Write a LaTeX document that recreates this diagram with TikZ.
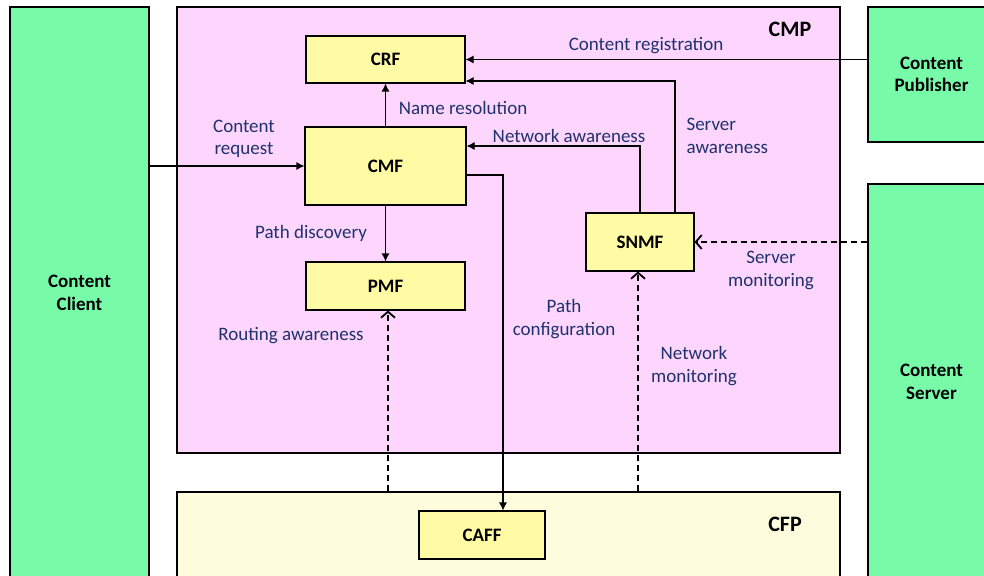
\documentclass[tikz,border=0pt]{standalone}
\usepackage{fontspec}
\setmainfont{Carlito}
\usetikzlibrary{arrows.meta}
\definecolor{entgreen}{RGB}{119,251,169}
\definecolor{cmppink}{RGB}{253,213,253}
\definecolor{fnyellow}{RGB}{255,251,165}
\definecolor{cfpyellow}{RGB}{253,253,221}
\definecolor{lblblue}{RGB}{31,50,110}

\begin{document}
\fontsize{19}{22.5}\selectfont
\begin{tikzpicture}[x=1pt, y=-1pt, line width=1.1pt,
  ent/.style = {draw, fill=entgreen, font=\bfseries, align=center, inner sep=0pt},
  plane/.style = {draw, inner sep=0pt},
  fn/.style = {draw, fill=fnyellow, font=\bfseries, inner sep=0pt},
  planelbl/.style = {font=\fontsize{22}{26}\selectfont\bfseries, inner sep=0pt},
  flow/.style = {-{Latex[length=8pt,width=8pt]}},
  mon/.style = {-{Straight Barb[length=6pt,width=14pt,line width=1.8pt]}, dash pattern=on 6pt off 4pt},
  lbl/.style = {text=lblblue, align=center, inner sep=0pt}]
\useasboundingbox (0,0) rectangle (984,575);
\clip (0,0) rectangle (984,575);

% outside entities
\node[ent, minimum width=139pt, minimum height=572pt] (client) at (79.5,293) {Content\\Client};
\node[ent, minimum width=127pt, minimum height=135pt] (publisher) at (931.5,74.5) {Content\\Publisher};
\node[ent, minimum width=127pt, minimum height=396pt] (server) at (931.5,382) {Content\\Server};

% planes
\node[plane, fill=cmppink, minimum width=663pt, minimum height=446pt] (cmp) at (508.5,230) {};
\node[plane, fill=cfpyellow, minimum width=663pt, minimum height=160pt] (cfp) at (508.5,572) {};
\node[planelbl] (cmplbl) at (790,29) {CMP};
\node[planelbl] (cfplbl) at (785,524) {CFP};

% functions
\node[fn, minimum width=159pt, minimum height=47pt] (crf) at (385.5,59.5) {CRF};
\node[fn, minimum width=161pt, minimum height=78pt] (cmf) at (385.5,166) {CMF};
\node[fn, minimum width=159pt, minimum height=48pt] (pmf) at (385.5,286) {PMF};
\node[fn, minimum width=108pt, minimum height=58pt] (snmf) at (640,242) {SNMF};
\node[fn, minimum width=126pt, minimum height=48pt] (caff) at (482,535) {CAFF};

% interfaces
\draw[flow] (client.east |- cmf) -- (cmf);
\draw[flow] (cmf) -- (crf);
\draw[flow] (publisher.west |- crf) -- (crf);
\draw[flow] ([xshift=35pt]snmf.north) |- ([yshift=-21.5pt]crf.east);
\draw[flow] (snmf.north) |- ([yshift=20pt]cmf.east);
\draw[flow] ([yshift=-9pt]cmf.east) -| ([xshift=21pt]caff.north);
\draw[flow] (cmf) -- (pmf);
\draw[mon] ([xshift=2.5pt]pmf.south |- cfp.north) -- ([xshift=2.5pt]pmf.south);
\draw[mon] ([xshift=-2pt]snmf.south |- cfp.north) -- ([xshift=-2pt]snmf.south);
\draw[mon] (server.west |- snmf) -- (snmf);

% labels
\node[lbl] (reqlbl) at (244,139) {Content\\request};
\node[lbl] (reslbl) at (463,107.5) {Name resolution};
\node[lbl] (reglbl) at (646,45.5) {Content registration};
\node[lbl] (netawlbl) at (569,135.5) {Network awareness};
\node[lbl, align=left, anchor=west] (srvawlbl) at (686,136) {Server\\awareness};
\node[lbl] (disclbl) at (311,233.5) {Path discovery};
\node[lbl] (routlbl) at (291,335.5) {Routing awareness};
\node[lbl] (conflbl) at (564,319) {Path\\configuration};
\node[lbl] (srvmonlbl) at (771,270.5) {Server\\monitoring};
\node[lbl] (netmonlbl) at (694,366) {Network\\monitoring};
\end{tikzpicture}
\end{document}
